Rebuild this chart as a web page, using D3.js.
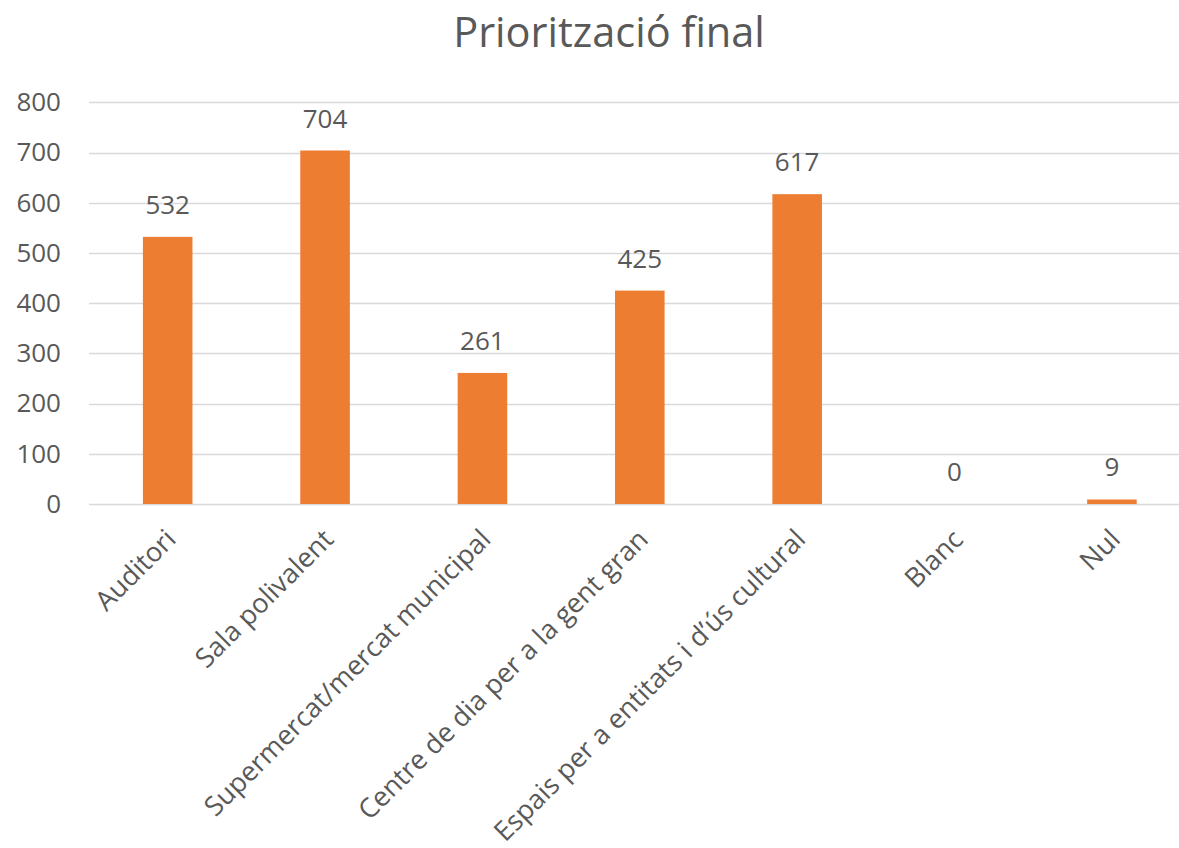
<!DOCTYPE html>
<html>
<head>
<meta charset="utf-8">
<script src="https://cdn.jsdelivr.net/npm/d3@7"></script>
<style>
  body { margin: 0; background: #fff; }
  text { font-family: "Open Sans", sans-serif; fill: #595959; }
</style>
</head>
<body>
<svg id="chart" width="1179" height="848"></svg>
<script>
const categories = ['Auditori', 'Sala polivalent', 'Supermercat/mercat municipal', 'Centre de dia per a la gent gran', 'Espais per a entitats i d\u2019ús cultural', 'Blanc', 'Nul']
const values = [532, 704, 261, 425, 617, 0, 9]
const yTicks = [0, 100, 200, 300, 400, 500, 600, 700, 800]

const svg = d3.select('#chart')
const margin = {left: 89, right: 1190.6, top: 102.3, bottom: 504}

const x = d3.scaleBand()
  .domain(categories)
  .range([margin.left, margin.right])
  .padding(0)

const y = d3.scaleLinear()
  .domain([0, 800])
  .range([margin.bottom, margin.top])

const barW = x.bandwidth() * 0.315

// gridlines
svg.append('g')
  .attr('class', 'grid')
  .selectAll('line')
  .data(yTicks)
  .enter().append('line')
  .attr('x1', margin.left)
  .attr('x2', margin.right)
  .attr('y1', d => Math.round(y(d)) + 0.5)
  .attr('y2', d => Math.round(y(d)) + 0.5)
  .attr('stroke', '#d9d9d9')
  .attr('stroke-width', 1.5)

// y axis labels
const yAxis = d3.axisLeft(y).tickValues(yTicks).tickSize(0).tickPadding(0)
svg.append('g')
  .attr('transform', 'translate(61,0)')
  .call(yAxis)
  .call(g => g.select('.domain').remove())
  .selectAll('text')
  .attr('font-size', 26)
  .attr('fill', '#595959')
  .attr('font-family', '"Open Sans", sans-serif')

// bars
svg.append('g')
  .selectAll('rect')
  .data(values)
  .enter().append('rect')
  .attr('x', (d, i) => x(categories[i]) + (x.bandwidth() - barW) / 2)
  .attr('width', barW)
  .attr('y', d => y(d))
  .attr('height', d => y(0) - y(d))
  .attr('fill', '#ed7d31')

// value labels
svg.append('g')
  .selectAll('text')
  .data(values)
  .enter().append('text')
  .attr('x', (d, i) => x(categories[i]) + x.bandwidth() / 2)
  .attr('y', d => y(d) - 23)
  .attr('text-anchor', 'middle')
  .attr('font-size', 26)
  .text(d => d)

// category labels
const xAxis = d3.axisBottom(x).tickSize(0).tickPadding(0)
svg.append('g')
  .attr('transform', `translate(0,${margin.bottom})`)
  .call(xAxis)
  .call(g => g.select('.domain').remove())
  .selectAll('text')
  .attr('font-size', 27)
  .attr('fill', '#595959')
  .attr('font-family', '"Open Sans", sans-serif')
  .attr('text-anchor', 'end')
  .attr('dy', null)
  .attr('y', 0)
  .attr('transform', 'translate(10,37) rotate(-45)')

// title
svg.append('text')
  .attr('x', 609)
  .attr('y', 47)
  .attr('text-anchor', 'middle')
  .attr('font-size', 41.5)
  .text('Priorització final')
</script>
</body>
</html>
